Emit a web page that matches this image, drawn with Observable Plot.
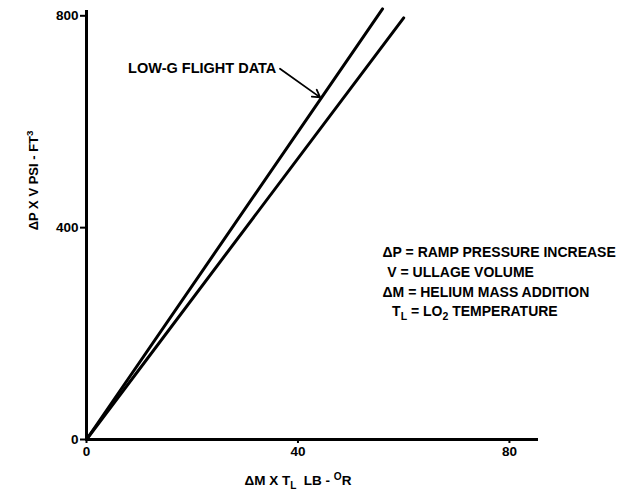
<!DOCTYPE html>
<html><head><meta charset="utf-8">
<script src="https://cdn.jsdelivr.net/npm/d3@7"></script>
<script src="https://cdn.jsdelivr.net/npm/@observablehq/plot@0.6"></script>
<style>body{margin:0;background:#fff}</style>
</head><body><div id="chart"></div>
<script>
// Tick values
const xTicks = [0, 40, 80];
const yTicks = [0, 400, 800];
// Series (two straight lines from the origin)
const flightX = [0, 56];
const flightY = [0, 813];
const otherX = [0, 60];
const otherY = [0, 796];
// Texts
const calloutText = "LOW-G FLIGHT DATA";
const legendLines = ["ΔP = RAMP PRESSURE INCREASE", "V = ULLAGE VOLUME", "ΔM = HELIUM MASS ADDITION", "T_L = LO_2 TEMPERATURE"];
const xLabel = "ΔM X T_L  LB - ^OR";
const yLabel = "ΔP X V PSI - FT^3";
// Annotation anchors (data coordinates)
const calloutAt = [35.9, 700];
const arrowFrom = [36.6, 700];
const arrowTo = [44.2, 646];
const legendX = [56.0, 56.9, 56.0, 57.8];
const legendY = [353, 315, 277, 242];

const flight = flightX.map((x, i) => ({x, y: flightY[i]}));
const other = otherX.map((x, i) => ({x, y: otherY[i]}));
const legend = legendLines.map((t, i) => ({t, x: legendX[i], y: legendY[i]}));

const chart = Plot.plot({
  width: 628,
  height: 494,
  marginLeft: 86,
  marginRight: 90,
  marginTop: 10,
  marginBottom: 55,
  style: {fontFamily: "'Liberation Sans', Arial, sans-serif", fontSize: "13px", fontWeight: "bold", color: "#000", background: "#fff"},
  x: {domain: [0, 85.5]},
  y: {domain: [0, 810]},
  marks: [
    Plot.axisX({ticks: xTicks, tickSize: 4, tickPadding: 3, strokeWidth: 2, label: null, fontSize: 13.5, fontWeight: "bold"}),
    Plot.axisY({ticks: yTicks, tickSize: 6, tickPadding: 2, strokeWidth: 2, label: null, fontSize: 13.5, fontWeight: "bold"}),
    Plot.ruleX([0], {strokeWidth: 3}),
    Plot.ruleY([0], {strokeWidth: 3}),
    Plot.line(flight, {x: "x", y: "y", strokeWidth: 3, stroke: "#000"}),
    Plot.line(other, {x: "x", y: "y", strokeWidth: 3, stroke: "#000"}),
    Plot.text([calloutText], {x: calloutAt[0], y: calloutAt[1], text: d => d, textAnchor: "end", fontSize: 14.5, fontWeight: "bold", letterSpacing: 0.6}),
    Plot.arrow([0], {x1: arrowFrom[0], y1: arrowFrom[1], x2: arrowTo[0], y2: arrowTo[1], strokeWidth: 1.8, headLength: 7}),
    Plot.text(legend, {x: "x", y: "y", text: "t", textAnchor: "start", fontSize: 14, fontWeight: "bold", letterSpacing: 0.3}),
    Plot.text([xLabel], {x: 40, frameAnchor: "bottom", dy: 45, text: d => d, fontSize: 13.5, fontWeight: "bold", letterSpacing: 0.4}),
    Plot.text([yLabel], {y: 395, frameAnchor: "left", dx: -53, rotate: -90, text: d => d, fontSize: 13, fontWeight: "bold"})
  ]
});

// Convert _X (subscript) and ^X (superscript) markers into tspans
const NS = "http://www.w3.org/2000/svg";
d3.select(chart).selectAll("text").each(function() {
  const el = this;
  if (el.querySelector("tspan")) return;
  const s = el.textContent;
  if (!/[_^]/.test(s)) return;
  el.textContent = "";
  let buf = "";
  let pending = 0;
  const flush = () => {
    if (!buf) return;
    const t = document.createElementNS(NS, "tspan");
    if (pending) t.setAttribute("dy", -pending);
    pending = 0;
    t.textContent = buf;
    el.appendChild(t);
    buf = "";
  };
  for (let i = 0; i < s.length; i++) {
    const c = s[i];
    if ((c === "_" || c === "^") && i + 1 < s.length) {
      flush();
      const shift = c === "_" ? 4 : -5;
      const t = document.createElementNS(NS, "tspan");
      t.setAttribute("dy", shift);
      t.setAttribute("font-size", "75%");
      t.textContent = s[i + 1];
      el.appendChild(t);
      pending = shift;
      i++;
    } else buf += c;
  }
  flush();
});

document.getElementById("chart").appendChild(chart);
</script>
</body></html>
